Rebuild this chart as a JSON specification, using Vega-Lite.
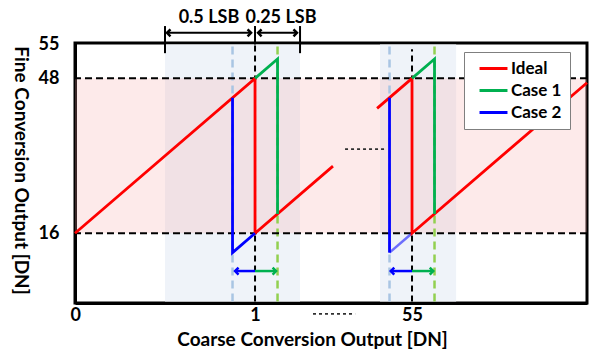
{
  "$schema": "https://vega.github.io/schema/vega-lite/v6.json",
  "width": 512,
  "height": 260,
  "autosize": {"type": "none"},
  "padding": {"left": 75, "top": 43, "right": 2, "bottom": 46},
  "background": "white",
  "config": {
    "view": {"stroke": "black", "strokeWidth": 3},
    "font": "Lato",
    "axis": {"grid": false, "ticks": false, "labelFont": "Lato", "labelFontWeight": "bold", "labelColor": "black", "titleFont": "Lato", "titleFontWeight": "bold", "titleColor": "black", "domainColor": "black", "domainWidth": 3, "zindex": 1}
  },
  "datasets": {
    "windows": [
      {"x": 0.5, "x2": 1.25, "y": 1.9, "y2": 55.0},
      {"x": 1.694, "x2": 2.117, "y": 1.9, "y2": 55.0}
    ],
    "band": [{"x": 0, "x2": 2.844, "y": 16, "y2": 48}],
    "hlines": [{"y": 48}, {"y": 16}],
    "vguides": [
      {"case": "Case 2", "x": 0.875, "y": 1.9, "y2": 55.0},
      {"case": "Case 2", "x": 1.747, "y": 1.9, "y2": 55.0},
      {"case": "Case 1", "x": 1.125, "y": 1.9, "y2": 55.0},
      {"case": "Case 1", "x": 1.997, "y": 1.9, "y2": 55.0},
      {"case": "Ideal", "x": 1, "y": 1.9, "y2": 55.0},
      {"case": "Ideal", "x": 1.872, "y": 1.9, "y2": 54.0}
    ],
    "lines": [
      {"series": "Ideal", "seg": "r1", "i": 0, "x": 0, "y": 16},
      {"series": "Ideal", "seg": "r1", "i": 1, "x": 1, "y": 48},
      {"series": "Ideal", "seg": "r1", "i": 2, "x": 1, "y": 16},
      {"series": "Ideal", "seg": "r1", "i": 3, "x": 1.433, "y": 29.86},
      {"series": "Ideal", "seg": "r2", "i": 0, "x": 1.678, "y": 41.8},
      {"series": "Ideal", "seg": "r2", "i": 1, "x": 1.872, "y": 48},
      {"series": "Ideal", "seg": "r2", "i": 2, "x": 1.872, "y": 16},
      {"series": "Ideal", "seg": "r2", "i": 3, "x": 2.844, "y": 47.1},
      {"series": "Case 1", "seg": "g1", "i": 0, "x": 1, "y": 48},
      {"series": "Case 1", "seg": "g1", "i": 1, "x": 1.125, "y": 52},
      {"series": "Case 1", "seg": "g1", "i": 2, "x": 1.125, "y": 20},
      {"series": "Case 1", "seg": "g2", "i": 0, "x": 1.872, "y": 48},
      {"series": "Case 1", "seg": "g2", "i": 1, "x": 1.997, "y": 52},
      {"series": "Case 1", "seg": "g2", "i": 2, "x": 1.997, "y": 20},
      {"series": "Case 2", "seg": "b1", "i": 0, "x": 0.875, "y": 44},
      {"series": "Case 2", "seg": "b1", "i": 1, "x": 0.875, "y": 12},
      {"series": "Case 2", "seg": "b1", "i": 2, "x": 1, "y": 16},
      {"series": "Case 2", "seg": "b2", "i": 0, "x": 1.747, "y": 44},
      {"series": "Case 2", "seg": "b2", "i": 1, "x": 1.747, "y": 12}
    ],
    "faded": [
      {"x": 1.747, "y": 12},
      {"x": 1.872, "y": 16}
    ],
    "ticks": [
      {"x": 0.5, "y": 53.2, "y2": 58.8},
      {"x": 1.25, "y": 53.2, "y2": 58.8},
      {"x": 1, "y": 55.0, "y2": 58.8}
    ],
    "spans": [
      {"x": 0.511, "x2": 0.978, "y": 57.4},
      {"x": 1.017, "x2": 1.233, "y": 57.4}
    ],
    "offsets": [
      {"case": "Case 2", "x": 1, "x2": 0.889, "y": 8.2},
      {"case": "Case 2", "x": 1.872, "x2": 1.754, "y": 8.2},
      {"case": "Case 1", "x": 1, "x2": 1.117, "y": 8.2},
      {"case": "Case 1", "x": 1.872, "x2": 1.99, "y": 8.2}
    ],
    "labels": [
      {"text": "0.5 LSB", "x": 0.744, "y": 60.5},
      {"text": "0.25 LSB", "x": 1.144, "y": 60.5}
    ],
    "breaks": [
      {"x": 1.5, "x2": 1.733, "y": 33.4},
      {"x": 1.322, "x2": 1.556, "y": -0.66}
    ]
  },
  "layer": [
    {
      "data": {"name": "windows"},
      "mark": {"type": "rect", "color": "#EFF3F9"},
      "encoding": {
        "x": {"field": "x", "type": "quantitative", "scale": {"domain": [0, 2.844], "nice": false, "zero": false},
          "axis": {"values": [0, 1, 1.872], "labelExpr": "datum.value == 0 ? '0' : (datum.value == 1 ? '1' : '55')", "labelFontSize": 18, "labelPadding": 3, "labelOffset": {"condition": {"test": "datum.value == 0", "value": -5}, "value": 0}, "title": "Coarse Conversion Output [DN]", "titleFontSize": 19, "titleX": 237, "titleY": 36, "titleBaseline": "middle", "titleAlign": "center", "titleAnchor": null}},
        "x2": {"field": "x2"},
        "y": {"field": "y", "type": "quantitative", "scale": {"domain": [1.6, 55.3], "nice": false, "zero": false},
          "axis": {"values": [16, 48, 55], "labelFontSize": 18, "labelPadding": 16, "labelBaseline": "middle", "title": "Fine Conversion Output [DN]", "titleFontSize": 19, "titleAngle": 90, "titleX": -55, "titleY": 127, "titleBaseline": "middle", "titleAlign": "center", "titleAnchor": null}},
        "y2": {"field": "y2"}
      }
    },
    {
      "data": {"name": "band"},
      "mark": {"type": "rect", "color": "#F7A8A8", "opacity": 0.24},
      "encoding": {
        "x": {"field": "x", "type": "quantitative"},
        "x2": {"field": "x2"},
        "y": {"field": "y", "type": "quantitative"},
        "y2": {"field": "y2"}
      }
    },
    {
      "data": {"name": "vguides"},
      "transform": [{"filter": "datum.case == 'Case 2'"}],
      "mark": {"type": "rule", "color": "#A9C5E3", "strokeWidth": 2.5, "strokeDash": [8, 5]},
      "encoding": {"x": {"field": "x", "type": "quantitative"}, "y": {"field": "y", "type": "quantitative"}, "y2": {"field": "y2"}}
    },
    {
      "data": {"name": "vguides"},
      "transform": [{"filter": "datum.case == 'Case 1'"}],
      "mark": {"type": "rule", "color": "#92D050", "strokeWidth": 2.5, "strokeDash": [8, 5]},
      "encoding": {"x": {"field": "x", "type": "quantitative"}, "y": {"field": "y", "type": "quantitative"}, "y2": {"field": "y2"}}
    },
    {
      "data": {"name": "vguides"},
      "transform": [{"filter": "datum.case == 'Ideal'"}],
      "mark": {"type": "rule", "color": "black", "strokeWidth": 2, "strokeDash": [6, 4]},
      "encoding": {"x": {"field": "x", "type": "quantitative"}, "y": {"field": "y", "type": "quantitative"}, "y2": {"field": "y2"}}
    },
    {
      "data": {"name": "hlines"},
      "mark": {"type": "rule", "color": "black", "strokeWidth": 2, "strokeDash": [7, 4]},
      "encoding": {"y": {"field": "y", "type": "quantitative"}}
    },
    {
      "data": {"name": "faded"},
      "mark": {"type": "line", "color": "#0000FF", "opacity": 0.55, "strokeWidth": 2.5},
      "encoding": {"x": {"field": "x", "type": "quantitative"}, "y": {"field": "y", "type": "quantitative"}}
    },
    {
      "data": {"name": "lines"},
      "mark": {"type": "line", "strokeWidth": 2.8},
      "encoding": {
        "x": {"field": "x", "type": "quantitative"},
        "y": {"field": "y", "type": "quantitative"},
        "detail": {"field": "seg"},
        "order": {"field": "i", "type": "quantitative"},
        "color": {"field": "series", "type": "nominal",
          "scale": {"domain": ["Ideal", "Case 1", "Case 2"], "range": ["#FF0000", "#00B050", "#0000FF"]},
          "legend": {"title": null, "orient": "none", "legendX": 389, "legendY": 9, "symbolType": "M-2.33,0L2.33,0", "symbolSize": 144, "symbolStrokeWidth": 3, "symbolOffset": 13, "labelFont": "Lato", "labelFontWeight": "bold", "labelFontSize": 17, "labelColor": "black", "labelOffset": 9, "rowPadding": 4, "padding": 8, "fillColor": "white", "strokeColor": "#7F7F7F", "zindex": 2}}
      }
    },
    {
      "data": {"name": "ticks"},
      "mark": {"type": "rule", "color": "black", "strokeWidth": 2},
      "encoding": {"x": {"field": "x", "type": "quantitative"}, "y": {"field": "y", "type": "quantitative"}, "y2": {"field": "y2"}}
    },
    {
      "data": {"name": "spans"},
      "mark": {"type": "rule", "color": "black", "strokeWidth": 2},
      "encoding": {"x": {"field": "x", "type": "quantitative"}, "x2": {"field": "x2"}, "y": {"field": "y", "type": "quantitative"}}
    },
    {
      "data": {"name": "spans"},
      "mark": {"type": "point", "shape": "M1,-1L0,0L1,1", "filled": false, "color": "black", "strokeWidth": 2.5, "size": 49, "opacity": 1},
      "encoding": {"x": {"field": "x", "type": "quantitative"}, "y": {"field": "y", "type": "quantitative"}}
    },
    {
      "data": {"name": "spans"},
      "mark": {"type": "point", "shape": "M-1,-1L0,0L-1,1", "filled": false, "color": "black", "strokeWidth": 2.5, "size": 49, "opacity": 1},
      "encoding": {"x": {"field": "x2", "type": "quantitative"}, "y": {"field": "y", "type": "quantitative"}}
    },
    {
      "data": {"name": "offsets"},
      "transform": [{"filter": "datum.case == 'Case 2'"}],
      "layer": [
        {"mark": {"type": "rule", "color": "#0000FF", "strokeWidth": 2.5},
          "encoding": {"x": {"field": "x", "type": "quantitative"}, "x2": {"field": "x2"}, "y": {"field": "y", "type": "quantitative"}}},
        {"mark": {"type": "point", "shape": "M1,-1L0,0L1,1", "filled": false, "color": "#0000FF", "strokeWidth": 2.5, "size": 49, "opacity": 1},
          "encoding": {"x": {"field": "x2", "type": "quantitative"}, "y": {"field": "y", "type": "quantitative"}}}
      ]
    },
    {
      "data": {"name": "offsets"},
      "transform": [{"filter": "datum.case == 'Case 1'"}],
      "layer": [
        {"mark": {"type": "rule", "color": "#00B050", "strokeWidth": 2.5},
          "encoding": {"x": {"field": "x", "type": "quantitative"}, "x2": {"field": "x2"}, "y": {"field": "y", "type": "quantitative"}}},
        {"mark": {"type": "point", "shape": "M-1,-1L0,0L-1,1", "filled": false, "color": "#00B050", "strokeWidth": 2.5, "size": 49, "opacity": 1},
          "encoding": {"x": {"field": "x2", "type": "quantitative"}, "y": {"field": "y", "type": "quantitative"}}}
      ]
    },
    {
      "data": {"name": "breaks"},
      "mark": {"type": "rule", "color": "#303030", "strokeWidth": 1.8, "strokeDash": [3, 3]},
      "encoding": {"x": {"field": "x", "type": "quantitative"}, "x2": {"field": "x2"}, "y": {"field": "y", "type": "quantitative"}}
    },
    {
      "data": {"name": "labels"},
      "mark": {"type": "text", "font": "Lato", "fontWeight": "bold", "fontSize": 18, "color": "black", "baseline": "middle", "align": "center"},
      "encoding": {"x": {"field": "x", "type": "quantitative"}, "y": {"field": "y", "type": "quantitative"}, "text": {"field": "text"}}
    }
  ]
}
